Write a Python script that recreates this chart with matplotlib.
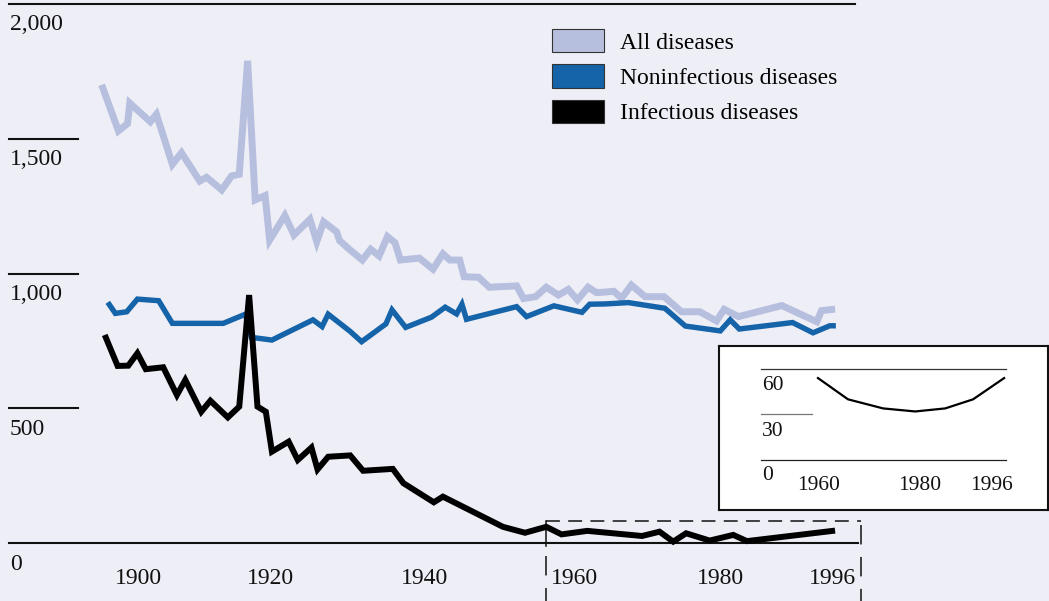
import matplotlib
matplotlib.use('Agg')
import matplotlib.pyplot as plt
from matplotlib.patches import Patch

plt.rcParams['font.family'] = ['Liberation Serif', 'DejaVu Serif']
plt.rcParams['lines.scale_dashes'] = False

W, H = 1049, 601
BG = '#eeeef6'
LIGHT = '#b7bfdf'
BLUE = '#1563a9'
BLACK = '#000000'

# ---------------- data (deaths per 100,000) ----------------
all_years = [1899.3, 1901.5, 1902.7, 1903.0, 1905.7, 1906.5, 1908.6, 1909.8, 1912.2, 1913.1,
             1915.1, 1916.4, 1917.4, 1918.5, 1919.5, 1920.8, 1921.4, 1923.4, 1924.6, 1926.7,
             1927.6, 1928.5, 1930.2, 1930.6, 1932.0, 1933.6, 1934.7, 1935.8, 1936.9, 1937.9,
             1938.6, 1941.1, 1942.9, 1944.2, 1945.1, 1946.4, 1947.0, 1948.9, 1950.3, 1953.9,
             1954.8, 1956.4, 1957.8, 1959.4, 1960.7, 1961.9, 1963.3, 1964.4, 1965.5, 1966.7,
             1967.7, 1969.0, 1970.8, 1973.3, 1975.6, 1978.0, 1980.2, 1981.2, 1983.1, 1988.8,
             1993.4, 1994.0, 1995.8]
all_rate = [1700, 1529, 1556, 1632, 1563, 1591, 1405, 1448, 1343, 1357,
            1310, 1362, 1368, 1789, 1273, 1289, 1124, 1215, 1143, 1201,
            1118, 1192, 1155, 1122, 1087, 1050, 1090, 1065, 1137, 1114,
            1050, 1057, 1016, 1073, 1050, 1050, 988, 986, 949, 954,
            907, 914, 949, 920, 941, 902, 949, 929, 931, 934,
            908, 957, 914, 914, 858, 858, 824, 867, 840, 881,
            821, 862, 868]

non_years = [1900.1, 1901.1, 1902.6, 1904.0, 1906.8, 1908.6, 1915.3, 1918.2, 1919.0, 1921.7,
             1927.1, 1928.3, 1929.1, 1932.0, 1933.5, 1936.7, 1937.5, 1939.3, 1942.7, 1944.5,
             1946.0, 1946.7, 1947.3, 1953.9, 1955.2, 1958.8, 1962.5, 1963.5, 1965.5, 1968.6,
             1973.4, 1976.1, 1980.7, 1982.0, 1983.2, 1990.2, 1992.9, 1995.1, 1995.9]
non_rate = [893, 852, 858, 905, 899, 815, 815, 849, 763, 753,
            828, 803, 849, 785, 747, 813, 865, 800, 838, 875,
            850, 886, 830, 877, 840, 880, 856, 886, 887, 892,
            871, 805, 787, 828, 794, 818, 780, 806, 806]

inf_years = [1899.7, 1901.4, 1902.8, 1904.0, 1905.1, 1907.4, 1909.2, 1910.3, 1912.4, 1913.6,
             1915.9, 1917.4, 1918.7, 1919.8, 1920.9, 1921.7, 1923.9, 1925.1, 1926.9, 1927.7,
             1929.1, 1932.0, 1933.7, 1937.6, 1939.0, 1943.0, 1944.2, 1952.1, 1955.0, 1957.8,
             1959.8, 1963.2, 1970.4, 1972.7, 1974.5, 1976.2, 1979.3, 1982.4, 1984.2, 1995.8]
inf_rate = [772, 657, 658, 704, 645, 652, 549, 605, 487, 528,
            466, 506, 920, 506, 487, 339, 376, 308, 354, 273,
            320, 325, 268, 275, 222, 151, 172, 60, 38, 60,
            32, 45, 26, 42, 5, 36, 9, 30, 7, 46]

inset_years = [1960, 1965.8, 1972.6, 1978.8, 1984.6, 1990.0, 1996]
inset_rate = [54, 40, 34, 32, 34, 40, 54]

y_ticks = [0, 500, 1000, 1500, 2000]
y_tick_labels = ['0', '500', '1,000', '1,500', '2,000']
x_tick_labels = ['1900', '1920', '1940', '1960', '1980', '1996']
inset_y_ticks = [0, 30, 60]
inset_x_labels = ['1960', '1980', '1996']
legend_labels = ['All diseases', 'Noninfectious diseases', 'Infectious diseases']

# ---------------- figure ----------------
fig = plt.figure(figsize=(W / 100, H / 100), dpi=100, facecolor=BG)

def ftext(x, y, s, **kw):
    kw.setdefault('fontsize', 17)
    kw.setdefault('zorder', 10)
    fig.text(x / W, 1 - y / H, s, **kw)

# decoration axes in pixel coordinates
deco = fig.add_axes([0, 0, 1, 1], zorder=1)
deco.set_xlim(0, W)
deco.set_ylim(H, 0)
deco.axis('off')

# dashed box marking the inset range
dash_kw = dict(color='#111111', lw=1.1)
deco.plot([546, 861], [521, 521], dashes=(10, 6), **dash_kw)
deco.plot([546, 546], [521, 546], **dash_kw)
deco.plot([546, 546], [556, 601], dashes=(14, 9), **dash_kw)
deco.plot([861, 861], [525, 601], dashes=(14, 9), **dash_kw)

# main data axes: full figure, mapped so 1900 -> x=107px and 0 -> y=543px
ax = fig.add_axes([0, 0, 1, 1], zorder=2)
ax.set_xlim(1900 - 107 / 7.6, 1900 + (W - 107) / 7.6)
ax.set_ylim((543 - H) / 0.2695, 543 / 0.2695)
ax.axis('off')

# y grid lines
grid_extent = {0: (9, 858), 500: (9, 78), 1000: (9, 78), 1500: (9, 78), 2000: (9, 855)}
for v, lab in zip(y_ticks, y_tick_labels):
    x0, x1 = grid_extent[v]
    ax.axhline(v, xmin=x0 / W, xmax=x1 / W, color='#111111', lw=1.5, zorder=1)
    ax.annotate(lab, xy=(10 / W, v), xycoords=('axes fraction', 'data'),
                xytext=(0, -21 * 0.72), textcoords='offset points',
                ha='left', va='center', fontsize=17, color='#111111')

line_kw = dict(solid_joinstyle='miter', solid_capstyle='butt')
ax.plot(all_years, all_rate, color=LIGHT, lw=5.0, zorder=3, **line_kw)
ax.plot(non_years, non_rate, color=BLUE, lw=3.9, zorder=4, **line_kw)
ax.plot(inf_years, inf_rate, color=BLACK, lw=4.3, zorder=5, **line_kw)

# x labels
for x, lab in zip([138, 270, 425, 574, 720, 832], x_tick_labels):
    ftext(x, 579, lab, ha='center', va='center', color='#111111')

# legend
handles = [Patch(facecolor=c, edgecolor='#333333', lw=0.8) for c in (LIGHT, BLUE, BLACK)]
ax.legend(handles, legend_labels, loc='upper left', bbox_to_anchor=(552 / W, 1 - 29 / H),
          frameon=False, fontsize=17, handlelength=2.2, handleheight=1.15,
          handletextpad=0.68, labelspacing=0.45, borderpad=0, borderaxespad=0)

# inset
axin = fig.add_axes([719 / W, 1 - 510 / H, 329 / W, 164 / H], zorder=3)
axin.set_facecolor('white')
axin.set_xlim(1960 - 99 / 5.17, 1960 + 230 / 5.17)
axin.set_ylim(-50 / 1.517, 114 / 1.517)
axin.set_xticks([])
axin.set_yticks([])
for s in axin.spines.values():
    s.set_linewidth(1.5)
    s.set_color('#111111')
inset_grid = {0: (0.128, 0.872, '#222222'), 30: (0.128, 0.283, '#777777'), 60: (0.128, 0.872, '#333333')}
for v in inset_y_ticks:
    a, b, c = inset_grid[v]
    axin.axhline(v, xmin=a, xmax=b, color=c, lw=0.9)
axin.plot(inset_years, inset_rate, color=BLACK, lw=1.6, solid_joinstyle='miter')

for y, lab in zip([385, 431, 475], ['60', '30', '0']):
    ftext(762, y, lab, ha='left', va='center', fontsize=15.5, color='#111111')
for x, lab in zip([819, 920, 992], inset_x_labels):
    ftext(x, 485, lab, ha='center', va='center', fontsize=15.5, color='#111111')

fig.savefig('out.png', dpi=100, facecolor=BG)
